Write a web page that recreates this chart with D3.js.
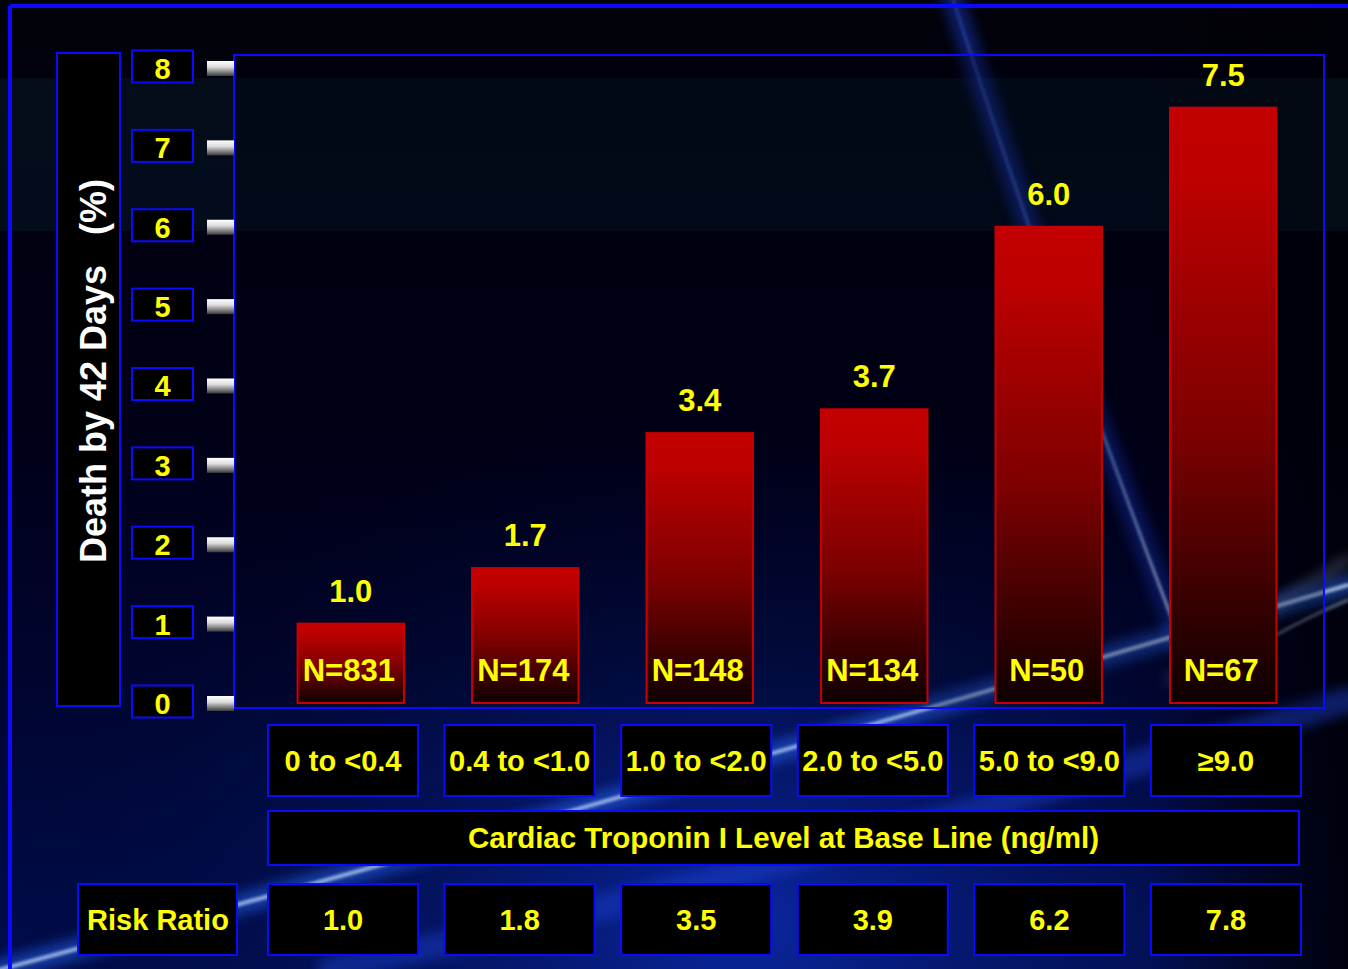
<!DOCTYPE html>
<html>
<head>
<meta charset="utf-8">
<script src="https://cdn.jsdelivr.net/npm/d3@7"></script>
<style>
  body { margin: 0; background: #000; }
  svg { display: block; }
  text { font-family: "Liberation Sans", Arial, sans-serif; font-weight: bold; }
</style>
</head>
<body>
<div id="wrapper"></div>
<script>
const categories = ['0 to <0.4', '0.4 to <1.0', '1.0 to <2.0', '2.0 to <5.0', '5.0 to <9.0', '≥9.0']
const deathRates = [1.0, 1.7, 3.4, 3.7, 6.0, 7.5]
const sampleSizes = [831, 174, 148, 134, 50, 67]
const riskRatios = [1.0, 1.8, 3.5, 3.9, 6.2, 7.8]
const yTicks = [0, 1, 2, 3, 4, 5, 6, 7, 8]
const yTitle = 'Death by 42 Days   (%)'
const xTitle = 'Cardiac Troponin I Level at Base Line (ng/ml)'
const rowTitle = 'Risk Ratio'

function drawChart() {
    const data = categories.map((c, i) => ({
        category: c,
        rate: deathRates[i],
        n: sampleSizes[i],
        rr: riskRatios[i]
    }))
    const xAcc = d => d.category
    const yAcc = d => d.rate

    let dimensions = {
        width: 1348,
        height: 969,
        plot: { left: 234, top: 55, right: 1324, bottom: 708 }
    }

    const yellow = '#ffff00'
    const blue = '#0a0aff'

    const svg = d3.select('#wrapper').append('svg')
        .attr('width', dimensions.width)
        .attr('height', dimensions.height)

    const defs = svg.append('defs')

    const bgGrad = defs.append('linearGradient').attr('id', 'bg').attr('x1', 0).attr('y1', 0).attr('x2', 0).attr('y2', 1)
    bgGrad.append('stop').attr('offset', '0%').attr('stop-color', '#02020a')
    bgGrad.append('stop').attr('offset', '45%').attr('stop-color', '#000018')
    bgGrad.append('stop').attr('offset', '100%').attr('stop-color', '#000c4c')

    const glow = defs.append('radialGradient').attr('id', 'glow')
        .attr('cx', 0.55).attr('cy', 0.95).attr('r', 0.55)
    glow.append('stop').attr('offset', '0%').attr('stop-color', '#0c2cb0').attr('stop-opacity', 0.85)
    glow.append('stop').attr('offset', '100%').attr('stop-color', '#000830').attr('stop-opacity', 0)

    const edge = defs.append('linearGradient').attr('id', 'edge').attr('x1', 0).attr('y1', 0).attr('x2', 1).attr('y2', 0)
    edge.append('stop').attr('offset', '0%').attr('stop-color', '#000').attr('stop-opacity', 0)
    edge.append('stop').attr('offset', '100%').attr('stop-color', '#000008').attr('stop-opacity', 0.9)

    const diag = defs.append('linearGradient').attr('id', 'diag')
        .attr('gradientUnits', 'userSpaceOnUse')
        .attr('x1', 0).attr('y1', 0).attr('x2', 0).attr('y2', 640)
    diag.append('stop').attr('offset', '0%').attr('stop-color', '#4f7cff').attr('stop-opacity', 0.35)
    diag.append('stop').attr('offset', '60%').attr('stop-color', '#6f9cff').attr('stop-opacity', 0.7)
    diag.append('stop').attr('offset', '100%').attr('stop-color', '#e0f0ff').attr('stop-opacity', 1)

    const barGrad = defs.append('linearGradient').attr('id', 'bar').attr('x1', 0).attr('y1', 0).attr('x2', 0).attr('y2', 1)
    barGrad.append('stop').attr('offset', '0%').attr('stop-color', '#c40000')
    barGrad.append('stop').attr('offset', '12%').attr('stop-color', '#bd0000')
    barGrad.append('stop').attr('offset', '55%').attr('stop-color', '#7c0000')
    barGrad.append('stop').attr('offset', '85%').attr('stop-color', '#320000')
    barGrad.append('stop').attr('offset', '100%').attr('stop-color', '#0e0000')

    const tickGrad = defs.append('linearGradient').attr('id', 'tick').attr('x1', 0).attr('y1', 0).attr('x2', 0).attr('y2', 1)
    tickGrad.append('stop').attr('offset', '0%').attr('stop-color', '#ffffff')
    tickGrad.append('stop').attr('offset', '40%').attr('stop-color', '#dcdcdc')
    tickGrad.append('stop').attr('offset', '100%').attr('stop-color', '#3a3a3a')

    defs.append('filter').attr('id', 'blur').attr('x', '-20%').attr('y', '-20%').attr('width', '140%').attr('height', '140%')
        .append('feGaussianBlur').attr('stdDeviation', 6)
    defs.append('filter').attr('id', 'soft').attr('x', '-20%').attr('y', '-20%').attr('width', '140%').attr('height', '140%')
        .append('feGaussianBlur').attr('stdDeviation', 1.8)

    // background
    const bg = svg.append('g')
    bg.append('rect').attr('width', dimensions.width).attr('height', dimensions.height).attr('fill', 'url(#bg)')
    bg.append('rect').attr('width', dimensions.width).attr('height', dimensions.height).attr('fill', 'url(#glow)')
    bg.append('rect').attr('x', 1150).attr('width', 198).attr('height', dimensions.height).attr('fill', 'url(#edge)')
    bg.append('rect').attr('y', 78).attr('width', dimensions.width).attr('height', 153)
        .attr('fill', '#0c2e3c').attr('opacity', 0.25)

    const streaks = [
        { d: 'M950,-10 Q1050,300 1180,640', w: 22, c: '#1a40e0', o: 0.4, f: 'url(#blur)' },
        { d: 'M950,-10 Q1050,300 1180,640', w: 3, c: 'url(#diag)', o: 0.8, f: 'url(#soft)' },
        { d: 'M-20,975 Q520,830 1348,585', w: 22, c: '#2a6cff', o: 0.45, f: 'url(#blur)' },
        { d: 'M-20,975 Q520,830 1348,585', w: 4, c: '#cfe6ff', o: 0.7, f: 'url(#soft)' },
        { d: 'M330,969 Q800,870 1348,700', w: 26, c: '#1a40d0', o: 0.45, f: 'url(#blur)' },
        { d: 'M1170,680 Q1260,610 1348,560', w: 10, c: '#8fa4c0', o: 0.3, f: 'url(#blur)' },
        { d: 'M1250,650 Q1300,620 1348,600', w: 3, c: '#aabbd0', o: 0.45, f: 'url(#soft)' }
    ]
    bg.selectAll('path.streak').data(streaks).join('path')
        .attr('class', 'streak')
        .attr('d', d => d.d)
        .attr('fill', 'none')
        .attr('stroke', d => d.c)
        .attr('stroke-width', d => d.w)
        .attr('stroke-linecap', 'round')
        .attr('opacity', d => d.o)
        .attr('filter', d => d.f)

    // outer frame (top and left visible)
    svg.append('line').attr('x1', 10).attr('x2', dimensions.width).attr('y1', 6).attr('y2', 6)
        .attr('stroke', blue).attr('stroke-width', 4)
    svg.append('line').attr('x1', 10).attr('x2', 10).attr('y1', 6).attr('y2', dimensions.height)
        .attr('stroke', blue).attr('stroke-width', 4)

    const p = dimensions.plot

    let yScale = d3.scaleLinear()
        .domain([0, 8])
        .range([703, 68])

    let xScale = d3.scaleBand()
        .domain(categories)
        .range([240, 1334])
        .paddingInner(0.39)
        .paddingOuter(0.33)

    let tableScale = d3.scaleBand()
        .domain(categories)
        .range([268, 1301])
        .paddingInner(0.15)
        .paddingOuter(0)

    // y title box
    svg.append('rect')
        .attr('x', 57).attr('y', 53).attr('width', 63).attr('height', 653)
        .attr('fill', '#000').attr('stroke', blue).attr('stroke-width', 2)
    svg.append('text')
        .attr('transform', 'translate(106, 371) rotate(-90)')
        .attr('text-anchor', 'middle')
        .attr('font-size', 36)
        .attr('fill', '#ffffff')
        .style('white-space', 'pre')
        .text(yTitle)

    // plot frame
    svg.append('rect')
        .attr('x', p.left).attr('y', p.top)
        .attr('width', p.right - p.left).attr('height', p.bottom - p.top)
        .attr('fill', '#000010').attr('fill-opacity', 0.25)
        .attr('stroke', blue).attr('stroke-width', 2)

    // y axis with boxed labels and bevelled tick marks
    let yAxis = d3.axisLeft(yScale).tickValues(yTicks).tickSize(0).tickFormat(d3.format('d'))
    const yAxisG = svg.append('g')
        .attr('transform', `translate(${p.left}, 0)`)
        .call(yAxis)
    yAxisG.select('.domain').remove()
    yAxisG.selectAll('.tick').each(function () {
        const t = d3.select(this)
        t.insert('rect', 'text')
            .attr('x', -102).attr('y', -18).attr('width', 61).attr('height', 32)
            .attr('fill', '#000').attr('stroke', blue).attr('stroke-width', 2)
        t.append('rect')
            .attr('x', -27).attr('y', -7.5).attr('width', 27).attr('height', 15)
            .attr('fill', 'url(#tick)')
    })
    yAxisG.selectAll('.tick text')
        .attr('x', -71.5)
        .attr('dy', '0.36em')
        .attr('text-anchor', 'middle')
        .attr('fill', yellow)
        .attr('font-size', 29)
        .attr('font-family', '"Liberation Sans", Arial, sans-serif')
        .attr('font-weight', 'bold')

    // bars
    const bars = svg.append('g')
    bars.selectAll('rect')
        .data(data)
        .join('rect')
        .attr('x', d => xScale(xAcc(d)))
        .attr('y', d => yScale(yAcc(d)))
        .attr('width', xScale.bandwidth())
        .attr('height', d => yScale(0) - yScale(yAcc(d)))
        .attr('fill', 'url(#bar)')
        .attr('stroke', '#c80000')
        .attr('stroke-width', 2)

    bars.selectAll('text.value')
        .data(data)
        .join('text')
        .attr('class', 'value')
        .attr('x', d => xScale(xAcc(d)) + xScale.bandwidth() / 2)
        .attr('y', d => yScale(yAcc(d)) - 22)
        .attr('text-anchor', 'middle')
        .attr('font-size', 31)
        .attr('fill', yellow)
        .text(d => d3.format('.1f')(yAcc(d)))

    bars.selectAll('text.n')
        .data(data)
        .join('text')
        .attr('class', 'n')
        .attr('x', d => xScale(xAcc(d)) + xScale.bandwidth() / 2 - 2)
        .attr('y', 681)
        .attr('text-anchor', 'middle')
        .attr('font-size', 31)
        .attr('fill', yellow)
        .text(d => `N=${d.n}`)

    // table below the chart
    const table = svg.append('g')
    const cellBox = (sel, y, h) => sel
        .attr('y', y).attr('height', h)
        .attr('fill', '#000').attr('stroke', blue).attr('stroke-width', 2)

    table.selectAll('rect.cat').data(data).join('rect')
        .attr('class', 'cat')
        .attr('x', d => tableScale(xAcc(d)))
        .attr('width', tableScale.bandwidth())
        .call(cellBox, 725, 71)
    table.selectAll('text.cat').data(data).join('text')
        .attr('class', 'cat')
        .attr('x', d => tableScale(xAcc(d)) + tableScale.bandwidth() / 2)
        .attr('y', 771)
        .attr('text-anchor', 'middle')
        .attr('font-size', 29)
        .attr('fill', yellow)
        .text(d => d.category)

    table.append('rect')
        .attr('x', tableScale.range()[0])
        .attr('width', 1299 - tableScale.range()[0])
        .call(cellBox, 811, 54)
    table.append('text')
        .attr('x', (tableScale.range()[0] + 1299) / 2)
        .attr('y', 848)
        .attr('text-anchor', 'middle')
        .attr('font-size', 29.5)
        .attr('fill', yellow)
        .text(xTitle)

    table.append('rect')
        .attr('x', 78).attr('width', 159)
        .call(cellBox, 884, 71)
    table.append('text')
        .attr('x', 158).attr('y', 930)
        .attr('text-anchor', 'middle')
        .attr('font-size', 29)
        .attr('fill', yellow)
        .text(rowTitle)

    table.selectAll('rect.rr').data(data).join('rect')
        .attr('class', 'rr')
        .attr('x', d => tableScale(xAcc(d)))
        .attr('width', tableScale.bandwidth())
        .call(cellBox, 884, 71)
    table.selectAll('text.rr').data(data).join('text')
        .attr('class', 'rr')
        .attr('x', d => tableScale(xAcc(d)) + tableScale.bandwidth() / 2)
        .attr('y', 930)
        .attr('text-anchor', 'middle')
        .attr('font-size', 29)
        .attr('fill', yellow)
        .text(d => d3.format('.1f')(d.rr))
}

drawChart()
</script>
</body>
</html>
